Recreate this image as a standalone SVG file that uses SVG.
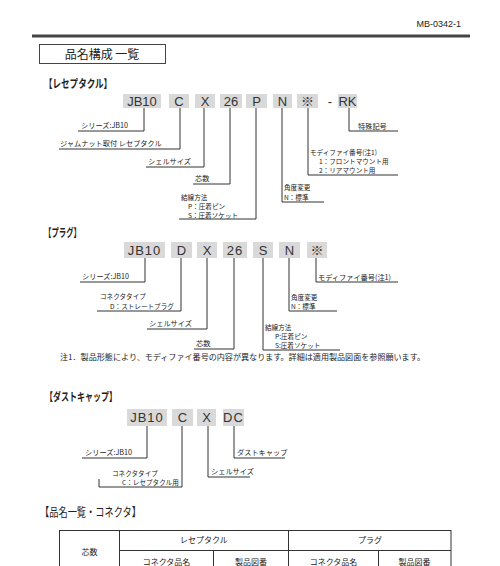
<svg xmlns="http://www.w3.org/2000/svg" width="500" height="566" viewBox="0 0 500 566">
<style>
.jp{font-family:"Noto Sans CJK JP","Liberation Sans",sans-serif;fill:#222}
.lbl{font-size:7.200px}
.sm{font-size:6.600px}
.hd{font-size:11.500px;font-weight:bold}
.code{font-family:"Liberation Sans","Noto Sans CJK JP",sans-serif;font-size:13px;fill:#333;text-anchor:middle}
.box{fill:#d9d9d9}
.ln{stroke:#333;stroke-width:1;fill:none}
.tb{stroke:#333;stroke-width:1;fill:none}
.mid{text-anchor:middle}
</style>
<rect width="500" height="566" fill="#fff"/>
<text x="461" y="27" text-anchor="end" font-family="Liberation Sans,sans-serif" font-size="9" fill="#222">MB-0342-1</text>
<line x1="32" y1="36" x2="470" y2="36" stroke="#444" stroke-width="3"/>
<g id="title">
<rect x="39.500" y="44.500" width="126" height="19" fill="#fff" stroke="#444" stroke-width="1"/>
<text x="102" y="59" class="jp mid" font-size="12">品名構成 一覧</text>
</g>

<g id="receptacle">
<text x="44" y="88" class="jp hd" textLength="68" lengthAdjust="spacingAndGlyphs">【レセプタクル】</text>
<rect class="box" x="123" y="94" width="38" height="14"/><text class="code" x="142" y="106">JB10</text>
<rect class="box" x="169" y="94" width="20" height="14"/><text class="code" x="179" y="106">C</text>
<rect class="box" x="195" y="94" width="20" height="14"/><text class="code" x="205" y="106">X</text>
<rect class="box" x="220" y="94" width="22" height="14"/><text class="code" x="231" y="106">26</text>
<rect class="box" x="246" y="94" width="21" height="14"/><text class="code" x="256.500" y="106">P</text>
<rect class="box" x="273" y="94" width="19" height="14"/><text class="code" x="282.500" y="106">N</text>
<rect class="box" x="297" y="94" width="21" height="14"/><text class="code" x="307.500" y="106">※</text>
<text class="code" x="330" y="106">-</text>
<rect class="box" x="338" y="94" width="19" height="14"/><text class="code" x="347.500" y="106">RK</text>
</g>
<g id="receptacle-labels">
<text x="81" y="128" class="jp lbl">シリーズ:JB10</text>
<text x="60" y="146" class="jp lbl">ジャムナット取付 レセプタクル</text>
<text x="148" y="164" class="jp lbl">シェルサイズ</text>
<text x="195" y="181" class="jp lbl">芯数</text>
<text x="181" y="199.500" class="jp sm">結線方法</text>
<text x="188" y="208.500" class="jp sm">P：圧着ピン</text>
<text x="188" y="217.500" class="jp sm">S：圧着ソケット</text>
<text x="284" y="190" class="jp sm">角度変更</text>
<text x="284" y="199.500" class="jp sm">N：標準</text>
<text x="310" y="154.500" class="jp sm">モディファイ番号(注1)</text>
<text x="319" y="163.500" class="jp sm">1：フロントマウント用</text>
<text x="319" y="172.500" class="jp sm">2：リアマウント用</text>
<text x="358" y="129" class="jp lbl">特殊記号</text>
</g>

<g id="plug">
<text x="44" y="237" class="jp hd" textLength="37" lengthAdjust="spacingAndGlyphs">【プラグ】</text>
<rect class="box" x="124" y="242" width="41" height="16"/><text class="code" x="144.500" y="255" letter-spacing="1">JB10</text>
<rect class="box" x="171" y="242" width="21" height="16"/><text class="code" x="181.500" y="255">D</text>
<rect class="box" x="197" y="242" width="20" height="16"/><text class="code" x="207" y="255">X</text>
<rect class="box" x="223" y="242" width="24" height="16"/><text class="code" x="235" y="255" letter-spacing="1">26</text>
<rect class="box" x="253" y="242" width="20" height="16"/><text class="code" x="263" y="255">S</text>
<rect class="box" x="279" y="242" width="21" height="16"/><text class="code" x="289.500" y="255">N</text>
<rect class="box" x="307" y="242" width="20" height="16"/><text class="code" x="317" y="255">※</text>
</g>
<g id="plug-labels">
<text x="82" y="279" class="jp lbl">シリーズ:JB10</text>
<text x="100" y="299" class="jp sm">コネクタタイプ</text>
<text x="110" y="308.500" class="jp sm">D：ストレートプラグ</text>
<text x="149" y="326" class="jp lbl">シェルサイズ</text>
<text x="196" y="346" class="jp lbl">芯数</text>
<text x="265" y="329.500" class="jp sm">結線方法</text>
<text x="275" y="338.500" class="jp sm">P:圧着ピン</text>
<text x="275" y="347.500" class="jp sm">S:圧着ソケット</text>
<text x="291" y="299.500" class="jp sm">角度変更</text>
<text x="291" y="308.500" class="jp sm">N：標準</text>
<text x="318" y="280" class="jp lbl">モディファイ番号(注1)</text>
</g>

<g id="note">
<text x="60" y="360" class="jp" font-size="7.600" textLength="365" lengthAdjust="spacingAndGlyphs">注1．製品形態により、モディファイ番号の内容が異なります。詳細は適用製品図面を参照願います。</text>
</g>

<g id="dustcap">
<text x="45" y="401" class="jp hd" textLength="72" lengthAdjust="spacingAndGlyphs">【ダストキャップ】</text>
<rect class="box" x="127" y="409" width="40" height="17"/><text class="code" x="147" y="422" letter-spacing="1">JB10</text>
<rect class="box" x="172" y="409" width="21" height="17"/><text class="code" x="182.500" y="422">C</text>
<rect class="box" x="197" y="409" width="19" height="17"/><text class="code" x="206.500" y="422">X</text>
<rect class="box" x="223" y="409" width="21" height="17"/><text class="code" x="233.500" y="422" letter-spacing="1">DC</text>
</g>
<g id="dustcap-labels">
<text x="85" y="455" class="jp lbl">シリーズ:JB10</text>
<text x="237" y="455" class="jp lbl">ダストキャップ</text>
<text x="211" y="474" class="jp lbl">シェルサイズ</text>
<text x="112" y="475.500" class="jp sm">コネクタタイプ</text>
<text x="122" y="484.500" class="jp sm">C：レセプタクル用</text>
</g>

<g id="connectors">
<polyline class="ln" points="144,108 144,131 78,131"/>
<polyline class="ln" points="180,108 180,149 59,149"/>
<polyline class="ln" points="204,108 204,167 146,167"/>
<polyline class="ln" points="230,108 230,184 193,184"/>
<polyline class="ln" points="256,108 256,219 179,219"/>
<polyline class="ln" points="282,108 282,202 324,202"/>
<polyline class="ln" points="308,108 308,175 398,175"/>
<polyline class="ln" points="349,108 349,131 398,131"/>
<polyline class="ln" points="145,258 145,282 80,282"/>
<polyline class="ln" points="181,258 181,311 97,311"/>
<polyline class="ln" points="207,258 207,329 147,329"/>
<polyline class="ln" points="234,258 234,349 194,349"/>
<polyline class="ln" points="263,258 263,350 340,350"/>
<polyline class="ln" points="289,258 289,311 337,311"/>
<polyline class="ln" points="316,258 316,282 398,282"/>
<polyline class="ln" points="147,426 147,458 82,458"/>
<polyline class="ln" points="182,426 182,487 99,487 99,479"/>
<polyline class="ln" points="208,426 208,477 250,477"/>
<polyline class="ln" points="234,426 234,458 285,458"/>
</g>

<g id="table">
<text x="40" y="517" class="jp" font-size="12" textLength="101" lengthAdjust="spacingAndGlyphs">【品名一覧・コネクタ】</text>
<rect class="tb" x="59.500" y="530.500" width="391.500" height="40"/>
<line class="tb" x1="119.500" y1="530.500" x2="119.500" y2="566"/>
<line class="tb" x1="288.500" y1="530.500" x2="288.500" y2="566"/>
<line class="tb" x1="119.500" y1="550.500" x2="451" y2="550.500"/>
<line class="tb" x1="213.500" y1="550.500" x2="213.500" y2="566"/>
<line class="tb" x1="378.500" y1="550.500" x2="378.500" y2="566"/>
<text x="89.500" y="555" class="jp mid" font-size="8">芯数</text>
<text x="204" y="543" class="jp mid" font-size="8">レセプタクル</text>
<text x="370" y="543" class="jp mid" font-size="8">プラグ</text>
<text x="166.500" y="565" class="jp mid" font-size="8">コネクタ品名</text>
<text x="251" y="565" class="jp mid" font-size="8">製品図番</text>
<text x="333.500" y="565" class="jp mid" font-size="8">コネクタ品名</text>
<text x="414.500" y="565" class="jp mid" font-size="8">製品図番</text>
</g>
</svg>
